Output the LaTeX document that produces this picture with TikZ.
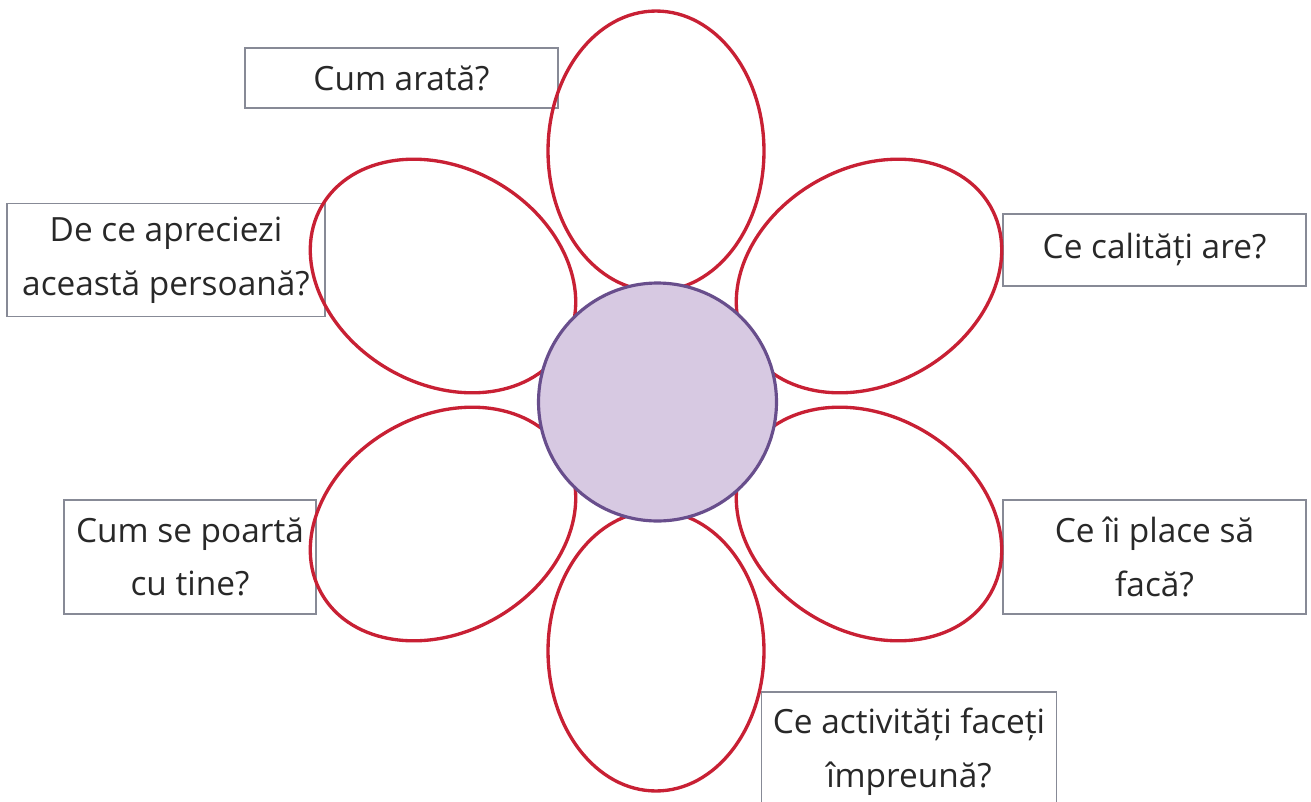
\documentclass[tikz,border=0pt]{standalone}
\usepackage{fontspec}
\setmainfont{Open Sans}
\usetikzlibrary{shapes.geometric}
\definecolor{petalred}{RGB}{200,32,52}
\definecolor{boxgray}{RGB}{135,138,150}
\definecolor{heartfill}{RGB}{215,201,226}
\definecolor{heartline}{RGB}{104,78,140}
\definecolor{txtgray}{RGB}{40,40,40}
\begin{document}
\begin{tikzpicture}[
    x=0.02cm, y=-0.02cm,
    question/.style={draw=boxgray, line width=0.8pt, fill=white, inner sep=0pt,
        align=center, text=txtgray, font=\fontsize{19}{30.5}\selectfont},
    petal/.style={ellipse, draw=petalred, line width=1.9pt, inner sep=0pt,
        minimum width=5.6cm, minimum height=4.32cm},
    heart/.style={circle, draw=heartline, fill=heartfill, line width=1.8pt,
        inner sep=0pt, minimum size=4.76cm}
    ]
    \clip (0,0) rectangle (1311,801);
    \useasboundingbox (0,0) rectangle (1311,801);
    % question boxes
    \node[question, minimum width=6.26cm, minimum height=1.2cm] (look) at (401.5,78) {Cum arată?};
    \node[question, minimum width=6.36cm, minimum height=2.26cm] (why) at (166,260) {De ce apreciezi\\această persoană?};
    \node[question, minimum width=6.06cm, minimum height=1.44cm] (qual) at (1154.5,250) {Ce calități are?};
    \node[question, minimum width=5.04cm, minimum height=2.28cm] (behave) at (190,557) {Cum se poartă\\cu tine?};
    \node[question, minimum width=6.06cm, minimum height=2.28cm] (likes) at (1154.5,557) {Ce îi place să\\facă?};
    \node[question, minimum width=5.9cm, minimum height=2.4cm] (together) at (909,752) {Ce activități faceți\\împreună?};
    % petals
    \node[petal, rotate=90] (ptop) at (656,151) {};
    \node[petal, rotate=30] (pur) at (869,276) {};
    \node[petal, rotate=-30] (plr) at (869,524) {};
    \node[petal, rotate=90] (pbot) at (656,651) {};
    \node[petal, rotate=30] (pll) at (443,524) {};
    \node[petal, rotate=-30] (pul) at (443,276) {};
    % centre
    \node[heart] (centre) at (657.5,402) {};
\end{tikzpicture}
\end{document}
